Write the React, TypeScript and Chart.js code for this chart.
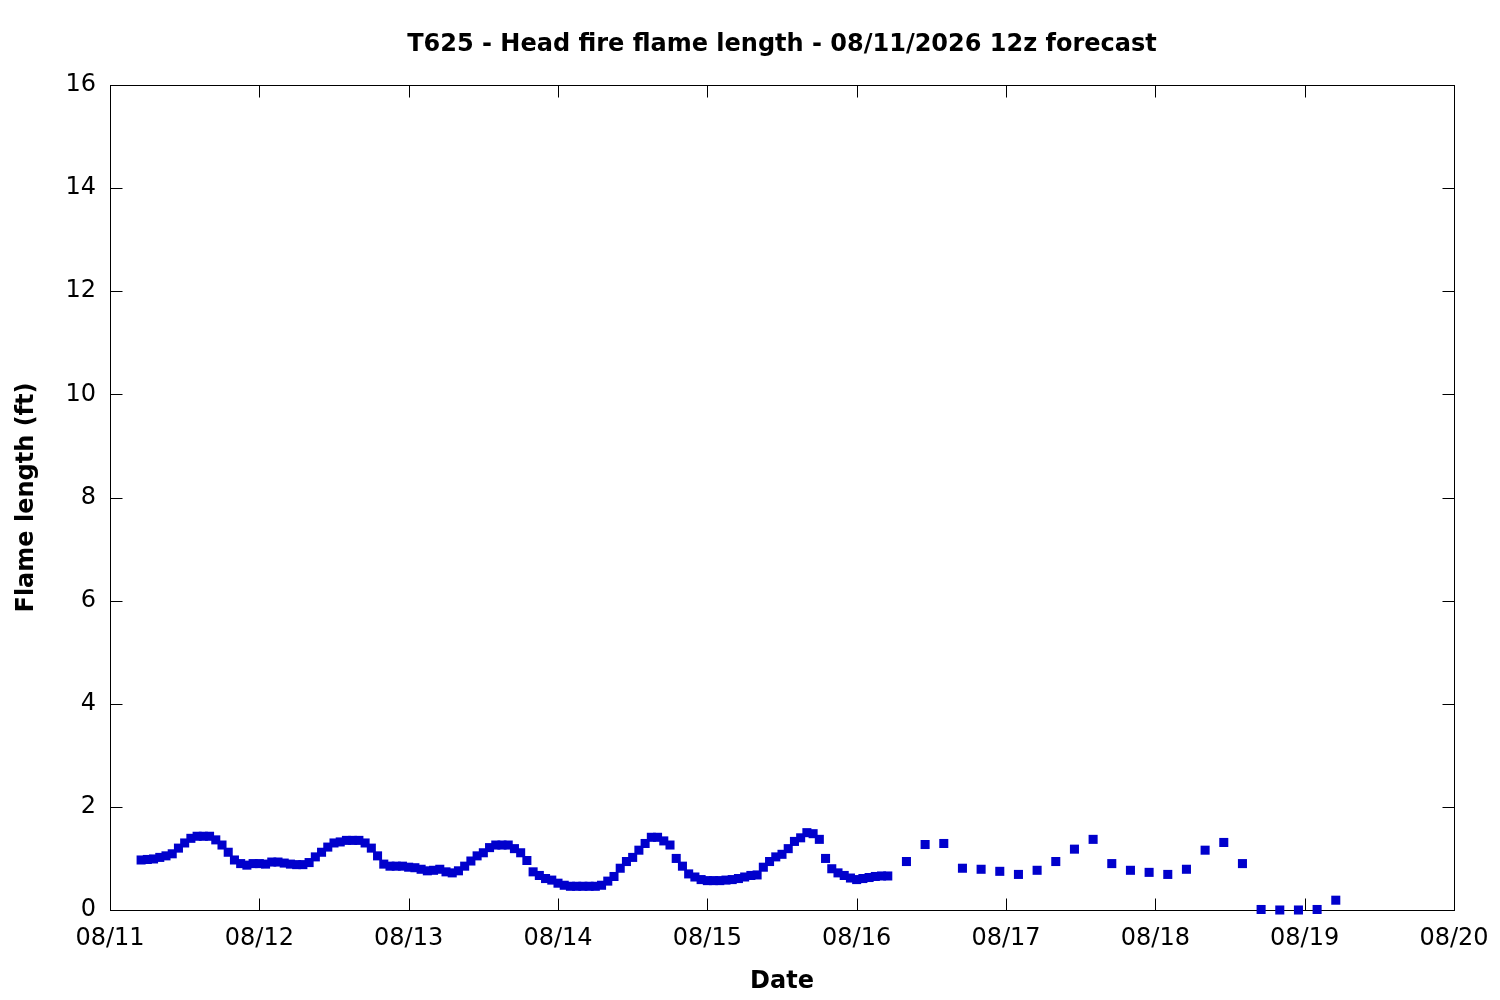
import React, { useEffect, useRef } from 'react';
import { Chart, registerables, ChartOptions, Plugin } from 'chart.js';

Chart.register(...registerables);

// x axis: hours after 08/11 00:00, one labelled tick per day
const dayLabels = ['08/11', '08/12', '08/13', '08/14', '08/15', '08/16', '08/17', '08/18', '08/19', '08/20'];

// hourly forecast, 08/11 05:00 .. 08/16 05:00
const hourlyStart = 5;
const hourlyFlame = [
    0.97, 0.98, 0.99, 1.02, 1.05, 1.09, 1.20, 1.30, 1.39, 1.43,
    1.43, 1.43, 1.36, 1.26, 1.12, 0.97, 0.90, 0.87, 0.90, 0.90,
    0.89, 0.93, 0.93, 0.91, 0.89, 0.88, 0.88, 0.92, 1.03, 1.12,
    1.22, 1.30, 1.32, 1.35, 1.35, 1.35, 1.30, 1.20, 1.05, 0.89,
    0.85, 0.85, 0.85, 0.83, 0.82, 0.79, 0.76, 0.77, 0.79, 0.74,
    0.72, 0.76, 0.85, 0.95, 1.05, 1.11, 1.21, 1.26, 1.26, 1.26,
    1.19, 1.11, 0.96, 0.74, 0.67, 0.61, 0.58, 0.52, 0.48, 0.46,
    0.46, 0.46, 0.46, 0.46, 0.48, 0.56, 0.65, 0.81, 0.94, 1.02,
    1.16, 1.29, 1.41, 1.41, 1.34, 1.26, 1.00, 0.85, 0.70, 0.64,
    0.59, 0.57, 0.57, 0.57, 0.58, 0.59, 0.61, 0.64, 0.67, 0.68,
    0.83, 0.94, 1.03, 1.08, 1.19, 1.33, 1.40, 1.50, 1.48, 1.37,
    1.00, 0.80, 0.72, 0.67, 0.62, 0.59, 0.61, 0.63, 0.65, 0.66, 0.66,
];

// 3-hourly forecast, 08/16 08:00 .. 08/19 05:00
const threeHourlyStart = 128;
const threeHourlyFlame = [
    0.94, 1.27, 1.29, 0.81, 0.79, 0.75, 0.69, 0.77, 0.94, 1.18, 1.37, 0.90,
    0.77, 0.73, 0.69, 0.79, 1.16, 1.31, 0.90, 0.01, 0.00, 0.00, 0.01, 0.19,
];

const FONT = "'DejaVu Sans', sans-serif";
const BLUE = '#0000cc';

// gnuplot-like box with inward ticks on all four sides
const framePlugin: Plugin = {
    id: 'frame',
    beforeDatasetsDraw(chart) {
        const { ctx, chartArea, scales } = chart;
        const left = Math.round(chartArea.left) + 0.5;
        const right = Math.round(chartArea.right) + 0.5;
        const top = Math.round(chartArea.top) + 0.5;
        const bottom = Math.round(chartArea.bottom) + 0.5;
        const len = 12;
        ctx.save();
        ctx.strokeStyle = '#000';
        ctx.lineWidth = 1;
        ctx.strokeRect(left, top, right - left, bottom - top);
        ctx.beginPath();
        scales.x.ticks.forEach((t) => {
            const px = Math.round(scales.x.getPixelForValue(t.value)) + 0.5;
            if (px <= left + 1 || px >= right - 1) return;
            ctx.moveTo(px, bottom);
            ctx.lineTo(px, bottom - len);
            ctx.moveTo(px, top);
            ctx.lineTo(px, top + len);
        });
        scales.y.ticks.forEach((t) => {
            const py = Math.round(scales.y.getPixelForValue(t.value)) + 0.5;
            if (py <= top + 1 || py >= bottom - 1) return;
            ctx.moveTo(left, py);
            ctx.lineTo(left + len, py);
            ctx.moveTo(right, py);
            ctx.lineTo(right - len, py);
        });
        ctx.stroke();
        ctx.restore();
    },
};

const App: React.FC = () => {
    const canvasRef = useRef<HTMLCanvasElement>(null);
    const chartRef = useRef<Chart>();

    useEffect(() => {
        document.body.style.margin = '0';
        const ctx = canvasRef.current?.getContext('2d');
        if (!ctx) return;
        if (chartRef.current) chartRef.current.destroy();

        const hourlyPoints = hourlyFlame.map((v, i) => ({ x: hourlyStart + i, y: v }));
        const threeHourlyPoints = threeHourlyFlame.map((v, i) => ({ x: threeHourlyStart + i * 3, y: v }));

        const pointStyle = {
            showLine: false,
            pointStyle: 'rect' as const,
            pointRadius: 6.4,
            pointHoverRadius: 6.4,
            pointBorderWidth: 0,
            backgroundColor: BLUE,
            borderColor: BLUE,
            clip: false as const,
        };

        chartRef.current = new Chart(ctx, {
            type: 'scatter',
            data: {
                datasets: [
                    { label: 'hourly', data: hourlyPoints, ...pointStyle },
                    { label: '3-hourly', data: threeHourlyPoints, ...pointStyle },
                ],
            },
            options: {
                animation: false,
                responsive: true,
                maintainAspectRatio: false,
                layout: { padding: { left: 0, right: 46, top: 0, bottom: 0 } },
                plugins: {
                    legend: { display: false },
                    tooltip: { enabled: false },
                    title: {
                        display: true,
                        fullSize: false,
                        text: 'T625 - Head fire flame length - 08/11/2026 12z forecast',
                        color: '#000',
                        font: { family: FONT, size: 24, weight: 'bold', lineHeight: 1.2 },
                        padding: { top: 30, bottom: 26.2 },
                    },
                },
                scales: {
                    x: {
                        type: 'linear',
                        min: 0,
                        max: 216,
                        afterFit: (scale) => {
                            scale.height = 90;
                            scale.paddingLeft = 0;
                            scale.paddingRight = 0;
                        },
                        grid: { display: false, drawTicks: false },
                        border: { display: false },
                        ticks: {
                            stepSize: 24,
                            padding: 14,
                            color: '#000',
                            maxRotation: 0,
                            font: { family: FONT, size: 24 },
                            callback: (value) => dayLabels[Math.round(Number(value) / 24)] ?? '',
                        },
                        title: {
                            display: true,
                            text: 'Date',
                            color: '#000',
                            font: { family: FONT, size: 24, weight: 'bold', lineHeight: 1.2 },
                            padding: { top: 0, bottom: 4 },
                        },
                    },
                    y: {
                        type: 'linear',
                        min: 0,
                        max: 16,
                        afterFit: (scale) => { scale.width = 110; },
                        grid: { display: false, drawTicks: false },
                        border: { display: false },
                        ticks: {
                            stepSize: 2,
                            padding: 14,
                            color: '#000',
                            font: { family: FONT, size: 24 },
                        },
                        title: {
                            display: true,
                            text: 'Flame length (ft)',
                            color: '#000',
                            font: { family: FONT, size: 24, weight: 'bold', lineHeight: 1.2 },
                            padding: { top: 12.6, bottom: 0 },
                        },
                    },
                },
            } as ChartOptions,
            plugins: [framePlugin],
        });

        return () => {
            if (chartRef.current) {
                chartRef.current.destroy();
                chartRef.current = undefined;
            }
        };
    }, []);

    return (
        <div style={{ position: 'absolute', left: 0, top: 0, width: '1500px', height: '1000px', background: '#fff' }}>
            <canvas ref={canvasRef}></canvas>
        </div>
    );
};

export default App;
